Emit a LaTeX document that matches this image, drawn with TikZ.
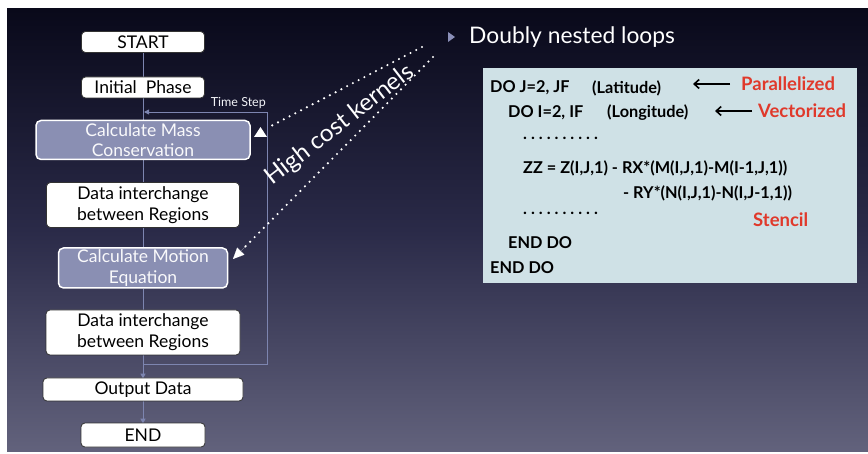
\documentclass[tikz,border=0pt]{standalone}
\usepackage{fontspec}
\setmainfont{Lato}
\usetikzlibrary{arrows.meta,calc}
\definecolor{bgtop}{HTML}{09091A}
\definecolor{bgmid}{HTML}{2A2A48}
\definecolor{bgbot}{HTML}{62627C}
\definecolor{flowc}{HTML}{7D85B0}
\definecolor{calcfill}{HTML}{8A8FB3}
\definecolor{codebg}{HTML}{CFE1E6}
\definecolor{hot}{HTML}{E0392B}
\definecolor{bullet}{HTML}{8A8FB8}
\pgfdeclarelayer{bglayer}
\pgfdeclarelayer{linelayer}
\pgfsetlayers{bglayer,linelayer,main}
\tikzset{
  whitebox/.style={draw=black!80, fill=white, rounded corners=4pt, line width=0.8pt,
    inner sep=0pt, align=center, text=black, font=\fontsize{17.5}{21}\selectfont},
  calcbox/.style={draw=white, fill=calcfill, rounded corners=5pt, line width=1.5pt,
    inner sep=0pt, align=center, text=white!95!calcfill, font=\fontsize{17.5}{20.5}\selectfont},
  flow/.style={draw=flowc, line width=0.9pt},
  tipflow/.style={-{Triangle[length=5pt,width=5pt]}},
  dots/.style={draw=white, line width=2.4pt, line cap=round, dash pattern=on 0pt off 6.5pt},
  codetxt/.style={anchor=west, inner sep=0pt, text=black, font=\bfseries\fontsize{16.3}{19}\selectfont},
  hottxt/.style={anchor=west, inner sep=0pt, text=hot, font=\bfseries\fontsize{18.5}{21}\selectfont},
  codearrow/.style={black, line width=1.6pt, -{Straight Barb[length=5pt,width=9pt]}}
}
\begin{document}
\begin{tikzpicture}[x=1pt,y=-1pt]
\useasboundingbox (0,0) rectangle (868,454);
\begin{pgfonlayer}{bglayer}
\fill[white] (0,0) rectangle (868,454);
\shade[top color=bgtop, bottom color=bgbot, middle color=bgmid] (7,9) rectangle (868,451);
\end{pgfonlayer}

% flowchart nodes
\node[whitebox, minimum width=123pt, minimum height=21pt] (start) at (143,42) {START};
\node[whitebox, minimum width=123pt, minimum height=21pt] (init) at (143,87.5) {Initial\ \ Phase};
\node[calcbox, minimum width=214pt, minimum height=39pt] (mass) at (143,140) {Calculate Mass\\Conservation};
\node[whitebox, minimum width=193pt, minimum height=45pt] (di1) at (143,205) {Data interchange\\between Regions};
\node[calcbox, minimum width=169pt, minimum height=40pt] (motion) at (143,268) {Calculate Motion\\Equation};
\node[whitebox, minimum width=194pt, minimum height=45pt] (di2) at (143,332.5) {Data interchange\\between Regions};
\node[whitebox, minimum width=200pt, minimum height=23pt] (output) at (143,389.5) {Output Data};
\node[whitebox, minimum width=124pt, minimum height=24pt] (end) at (143,435) {END};

\coordinate (ls) at (143,364);
\coordinate (ur) at (267,112);
\coordinate (ul) at (143,112);

\begin{pgfonlayer}{linelayer}
\draw[flow] (start) -- (init);
\draw[flow] (init) -- (mass);
\draw[flow] (mass) -- (di1);
\draw[flow] (di1) -- (motion);
\draw[flow] (motion) -- (di2);
\draw[flow, tipflow] (di2) -- ([yshift=-1pt]output.north);
\draw[flow, tipflow] (output) -- ([yshift=-1pt]end.north);
\draw[flow, tipflow] (ls) -| (ur) -- ([xshift=1pt]ul);
\end{pgfonlayer}
\node[anchor=south east, inner sep=0pt, text=white!90!flowc, font=\fontsize{12.5}{14}\selectfont] (ts) at (266,109) {Time Step};

% high cost kernels
\coordinate (k1) at (422,47);
\coordinate (k1e) at (271,126);
\coordinate (k2) at (433,57);
\coordinate (k2e) at (233,259);
\draw[dots] (k1) -- (k1e);
\draw[dots] (k2) -- ($(k2)!0.95!(k2e)$);
\draw[white, line width=0.1pt, -{Triangle[length=11pt,width=10pt,fill=white]}] ($(k2)!0.93!(k2e)$) -- (k2e);
\fill[white] (254,137) -- (267,137) -- (260.5,127) -- cycle;
\node[rotate=37.8, text=white, inner sep=0pt, font=\fontsize{24}{28}\selectfont] (hck) at (340,125) {High cost kernels};

% right side
\fill[bullet] (448,32) -- (455,37) -- (448,42) -- cycle;
\node[anchor=west, inner sep=0pt, text=white, font=\fontsize{22.8}{27}\selectfont] (title) at (469,37) {Doubly nested loops};

\node[fill=codebg, minimum width=374pt, minimum height=215pt, inner sep=0pt] (code) at (670,175.5) {};
\node[codetxt] (l1) at (490,88) {DO J=2, JF};
\node[codetxt] (lat) at (592,88) {(Latitude)};
\node[hottxt] (par) at (741,84) {Parallelized};
\node[codetxt] (l2) at (508,113) {DO I=2, IF};
\node[codetxt] (lon) at (607,113) {(Longitude)};
\node[hottxt] (vec) at (758,111) {Vectorized};
\node[codetxt] (d1) at (523,138) {.\hspace{4pt}.\hspace{4pt}.\hspace{4pt}.\hspace{4pt}.\hspace{4pt}.\hspace{4pt}.\hspace{4pt}.\hspace{4pt}.\hspace{4pt}.};
\node[codetxt] (zz) at (523,168) {ZZ = Z(I,J,1) - RX*(M(I,J,1)-M(I-1,J,1))};
\node[codetxt] (ry) at (623,193) {- RY*(N(I,J,1)-N(I,J-1,1))};
\node[codetxt] (d2) at (523,213) {.\hspace{4pt}.\hspace{4pt}.\hspace{4pt}.\hspace{4pt}.\hspace{4pt}.\hspace{4pt}.\hspace{4pt}.\hspace{4pt}.\hspace{4pt}.};
\node[hottxt] (sten) at (753,220) {Stencil};
\node[codetxt] (e1) at (508,243) {END DO};
\node[codetxt] (e2) at (490,268) {END DO};

\draw[codearrow] ([xshift=-11pt]par.west) -- ([xshift=-48pt]par.west);
\draw[codearrow] ([xshift=-6pt]vec.west) -- ([xshift=-43pt]vec.west);
\end{tikzpicture}
\end{document}
